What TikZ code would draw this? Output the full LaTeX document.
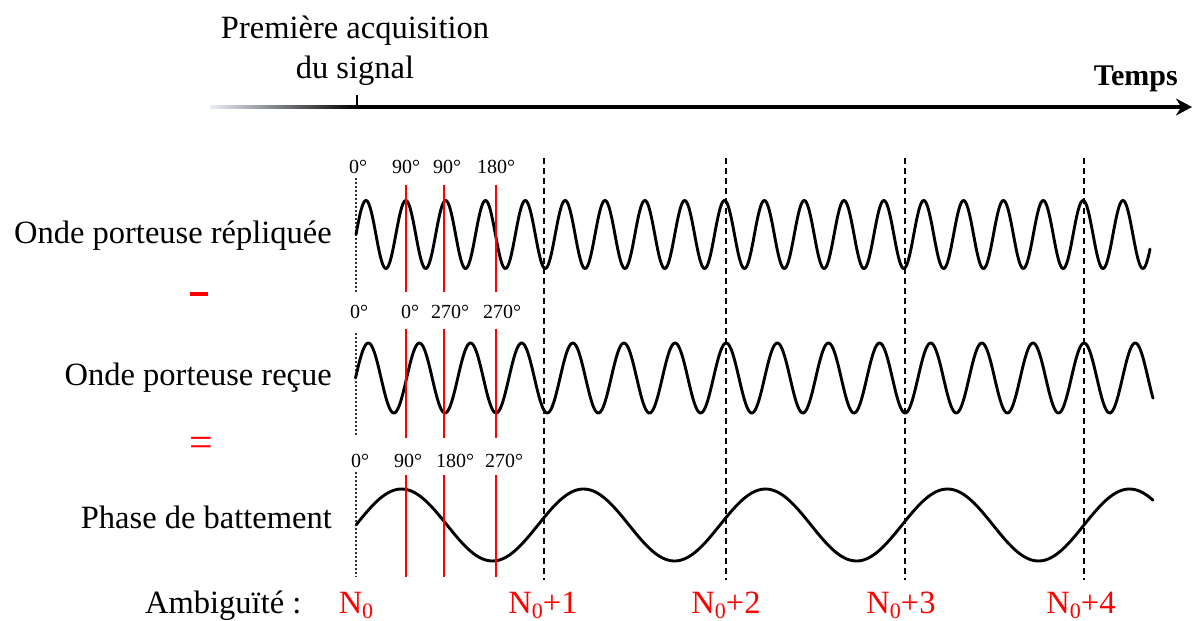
\documentclass[tikz,border=0pt]{standalone}
\usepackage{fontspec}
\setmainfont{Liberation Serif}
\usetikzlibrary{arrows.meta}
\definecolor{fadecol}{RGB}{232,238,246}
\newcommand{\subzero}{\raisebox{-5pt}{\fontsize{22}{22}\selectfont 0}}
\tikzset{
  big/.style={font=\fontsize{32.5}{38}\selectfont, inner sep=0pt},
  deg/.style={font=\fontsize{20}{24}\selectfont, inner sep=0pt, anchor=base},
  amb/.style={font=\fontsize{32.5}{38}\selectfont, inner sep=0pt, anchor=base, text=red},
  wave/.style={line width=2.9pt, line join=round, line cap=round},
  redline/.style={red, line width=2pt},
  dashline/.style={line width=2pt, dash pattern=on 6pt off 4pt},
  dotline/.style={line width=1.3pt, black!80, dash pattern=on 1.5pt off 2.5pt}
}
\begin{document}
\begin{tikzpicture}[x=1pt, y=-1pt]
\useasboundingbox (0,0) rectangle (1195,621);

% time axis
\coordinate (axstart) at (357,107);
\coordinate (axend) at (1192,107);
\shade[left color=fadecol, right color=black] (210,105.25) rectangle (357,108.75);
\draw[line width=3.5pt, -{Stealth[length=16pt,width=17pt]}] (axstart) -- (axend);
\coordinate (ticktop) at (357,95);
\draw[line width=2.5pt] (ticktop) -- (axstart);
\node[big, anchor=base] (acq1) at (355,38) {Première acquisition};
\node[big, anchor=base] (acq2) at (355,78) {du signal};
\node[font=\fontsize{30}{36}\selectfont\bfseries, inner sep=0pt, anchor=base east] (temps) at (1178,85) {Temps};

% left labels
\node[big, anchor=base east] (lab1) at (332,243) {Onde porteuse répliquée};
\node[big, anchor=base east] (lab2) at (332,385) {Onde porteuse reçue};
\node[big, anchor=base east] (lab3) at (332,528) {Phase de battement};
\node[red, inner sep=0pt] (minus) at (199,294) {\rule{18pt}{4.5pt}};
\node[red, font=\fontsize{42}{46}\selectfont, inner sep=0pt] (equal) at (201,447) {=};

% dotted start lines
\draw[dotline] (356,178) -- (356,292);
\draw[dotline] (356,333) -- (356,437);
\draw[dotline] (356,472) -- (356,577);

% dashed lines
\foreach \xx in {544,726,905,1084} {
  \draw[dashline] (\xx,158) -- (\xx,580);
}

% waves
\draw[wave] plot[domain=356:1150, samples=900, smooth] (\x, {234.5 - 34*sin(9.0361*(\x-356))});
\draw[wave] plot[domain=355.5:1153, samples=700, smooth] (\x, {378 - 35*sin(7.0409*(\x-355.5))});
\draw[wave] plot[domain=356:1153, samples=300, smooth] (\x, {525 - 36*sin(1.97802*(\x-356))});

% red lines
\foreach \xx in {406,444,496} {
  \draw[redline] (\xx,185) -- (\xx,292);
  \draw[redline] (\xx,329) -- (\xx,438);
  \draw[redline] (\xx,475) -- (\xx,577);
}

% degree labels
\node[deg] (r1a) at (358,173) {0°};
\node[deg] (r1b) at (406,173) {90°};
\node[deg] (r1c) at (447,173) {90°};
\node[deg] (r1d) at (496,173) {180°};
\node[deg] (r2a) at (359,318) {0°};
\node[deg] (r2b) at (410,318) {0°};
\node[deg] (r2c) at (450,318) {270°};
\node[deg] (r2d) at (502,318) {270°};
\node[deg] (r3a) at (360,467) {0°};
\node[deg] (r3b) at (408,467) {90°};
\node[deg] (r3c) at (455,467) {180°};
\node[deg] (r3d) at (504,467) {270°};

% ambiguity labels
\node[big, anchor=base west] (ambig) at (145,613) {Ambiguïté :};
\node[amb] (n0) at (356,613) {N\subzero};
\node[amb] (n1) at (543,613) {N\subzero+1};
\node[amb] (n2) at (726,613) {N\subzero+2};
\node[amb] (n3) at (901,613) {N\subzero+3};
\node[amb] (n4) at (1081,613) {N\subzero+4};
\end{tikzpicture}
\end{document}
